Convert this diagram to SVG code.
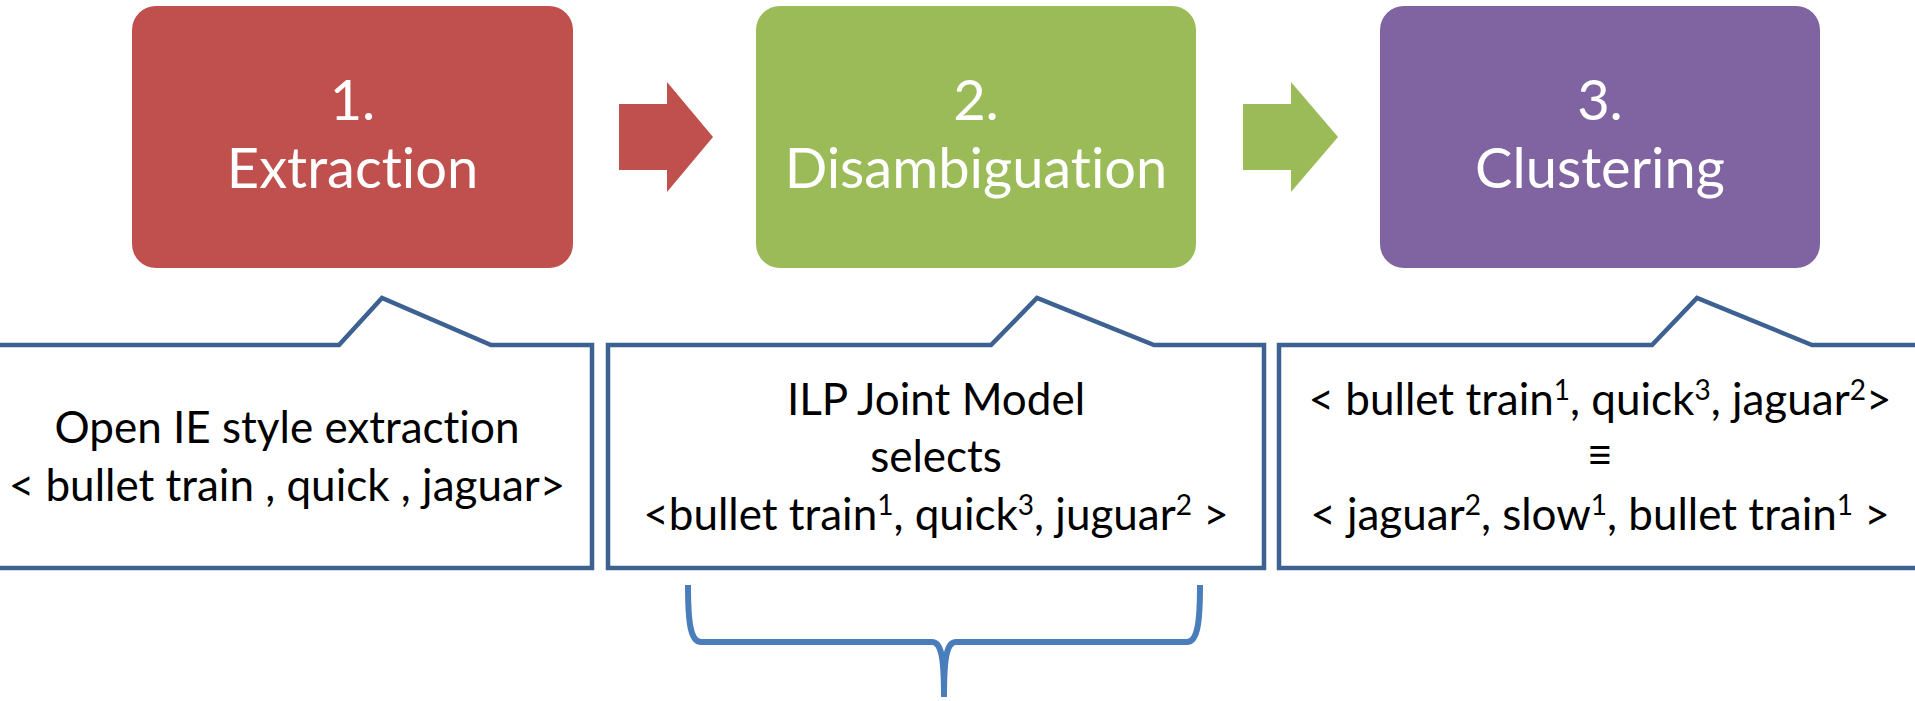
<svg xmlns="http://www.w3.org/2000/svg" width="1915" height="701" viewBox="0 0 1915 701">
  <style>
    text { font-variant-ligatures: none; }
    .step { stroke: none; }
    .title { font-family: Lato, "Liberation Sans", sans-serif; font-size: 56px; fill: #ffffff; text-anchor: middle; }
    .callout { fill: #ffffff; stroke: #3d6190; stroke-width: 4.5; stroke-linejoin: miter; }
    .ct { font-family: Lato, "Liberation Sans", sans-serif; font-size: 44px; fill: #000000; text-anchor: middle; }
    .sup { font-size: 28px; }
    .brace { fill: none; stroke: #4a7ebb; stroke-width: 6; }
  </style>

  <!-- process steps -->
  <g id="step-extraction">
    <rect class="step" x="132" y="6" width="441" height="262" rx="24" ry="24" fill="#c0504d"/>
    <text class="title" x="352.5" y="120">1.</text>
    <text class="title" x="352.5" y="188">Extraction</text>
  </g>
  <g id="step-disambiguation">
    <rect class="step" x="756" y="6" width="440" height="262" rx="24" ry="24" fill="#9bbb59"/>
    <text class="title" x="976" y="120">2.</text>
    <text class="title" x="976" y="188">Disambiguation</text>
  </g>
  <g id="step-clustering">
    <rect class="step" x="1380" y="6" width="440" height="262" rx="24" ry="24" fill="#8064a2"/>
    <text class="title" x="1600" y="120">3.</text>
    <text class="title" x="1600" y="188">Clustering</text>
  </g>

  <!-- block arrows between steps -->
  <g id="connectors">
    <polygon points="619,104 667,104 667,82 713,137 667,192 667,170 619,170" fill="#c0504d"/>
    <polygon points="1243,104 1291,104 1291,82 1338,137 1291,192 1291,170 1243,170" fill="#9bbb59"/>
  </g>

  <!-- callouts under each step -->
  <g id="callout-extraction">
    <path class="callout" d="M -20 345 H 339 L 382 298 L 491 345 H 592 V 568 H -20 Z"/>
    <text class="ct" x="287" y="443">Open IE style extraction</text>
    <text class="ct" x="287" y="501">&lt; bullet train , quick , jaguar&gt;</text>
  </g>
  <g id="callout-disambiguation">
    <path class="callout" d="M 608 345 H 991 L 1037 298 L 1154 345 H 1264 V 568 H 608 Z"/>
    <text class="ct" x="936" y="415">ILP Joint Model</text>
    <text class="ct" x="936" y="472">selects</text>
    <text class="ct" x="936" y="530">&lt;bullet train<tspan class="sup" dy="-15">1</tspan><tspan dy="15">, quick</tspan><tspan class="sup" dy="-15">3</tspan><tspan dy="15">, juguar</tspan><tspan class="sup" dy="-15">2</tspan><tspan dy="15"> &gt;</tspan></text>
  </g>
  <g id="callout-clustering">
    <path class="callout" d="M 1279 345 H 1652 L 1697 298 L 1812 345 H 1935 V 568 H 1279 Z"/>
    <text class="ct" x="1600" y="415">&lt; bullet train<tspan class="sup" dy="-15">1</tspan><tspan dy="15">, quick</tspan><tspan class="sup" dy="-15">3</tspan><tspan dy="15">, jaguar</tspan><tspan class="sup" dy="-15">2</tspan><tspan dy="15">&gt;</tspan></text>
    <text class="ct" x="1600" y="470">≡</text>
    <text class="ct" x="1600" y="530">&lt; jaguar<tspan class="sup" dy="-15">2</tspan><tspan dy="15">, slow</tspan><tspan class="sup" dy="-15">1</tspan><tspan dy="15">, bullet train</tspan><tspan class="sup" dy="-15">1</tspan><tspan dy="15"> &gt;</tspan></text>
  </g>

  <!-- brace under the disambiguation callout -->
  <g id="brace">
    <path class="brace" d="M 688 585 C 688 620 690 642 701 642 H 932 C 941 642 944 656 944 697 C 944 656 947 642 956 642 H 1187 C 1198 642 1200 620 1200 585"/>
  </g>
</svg>
